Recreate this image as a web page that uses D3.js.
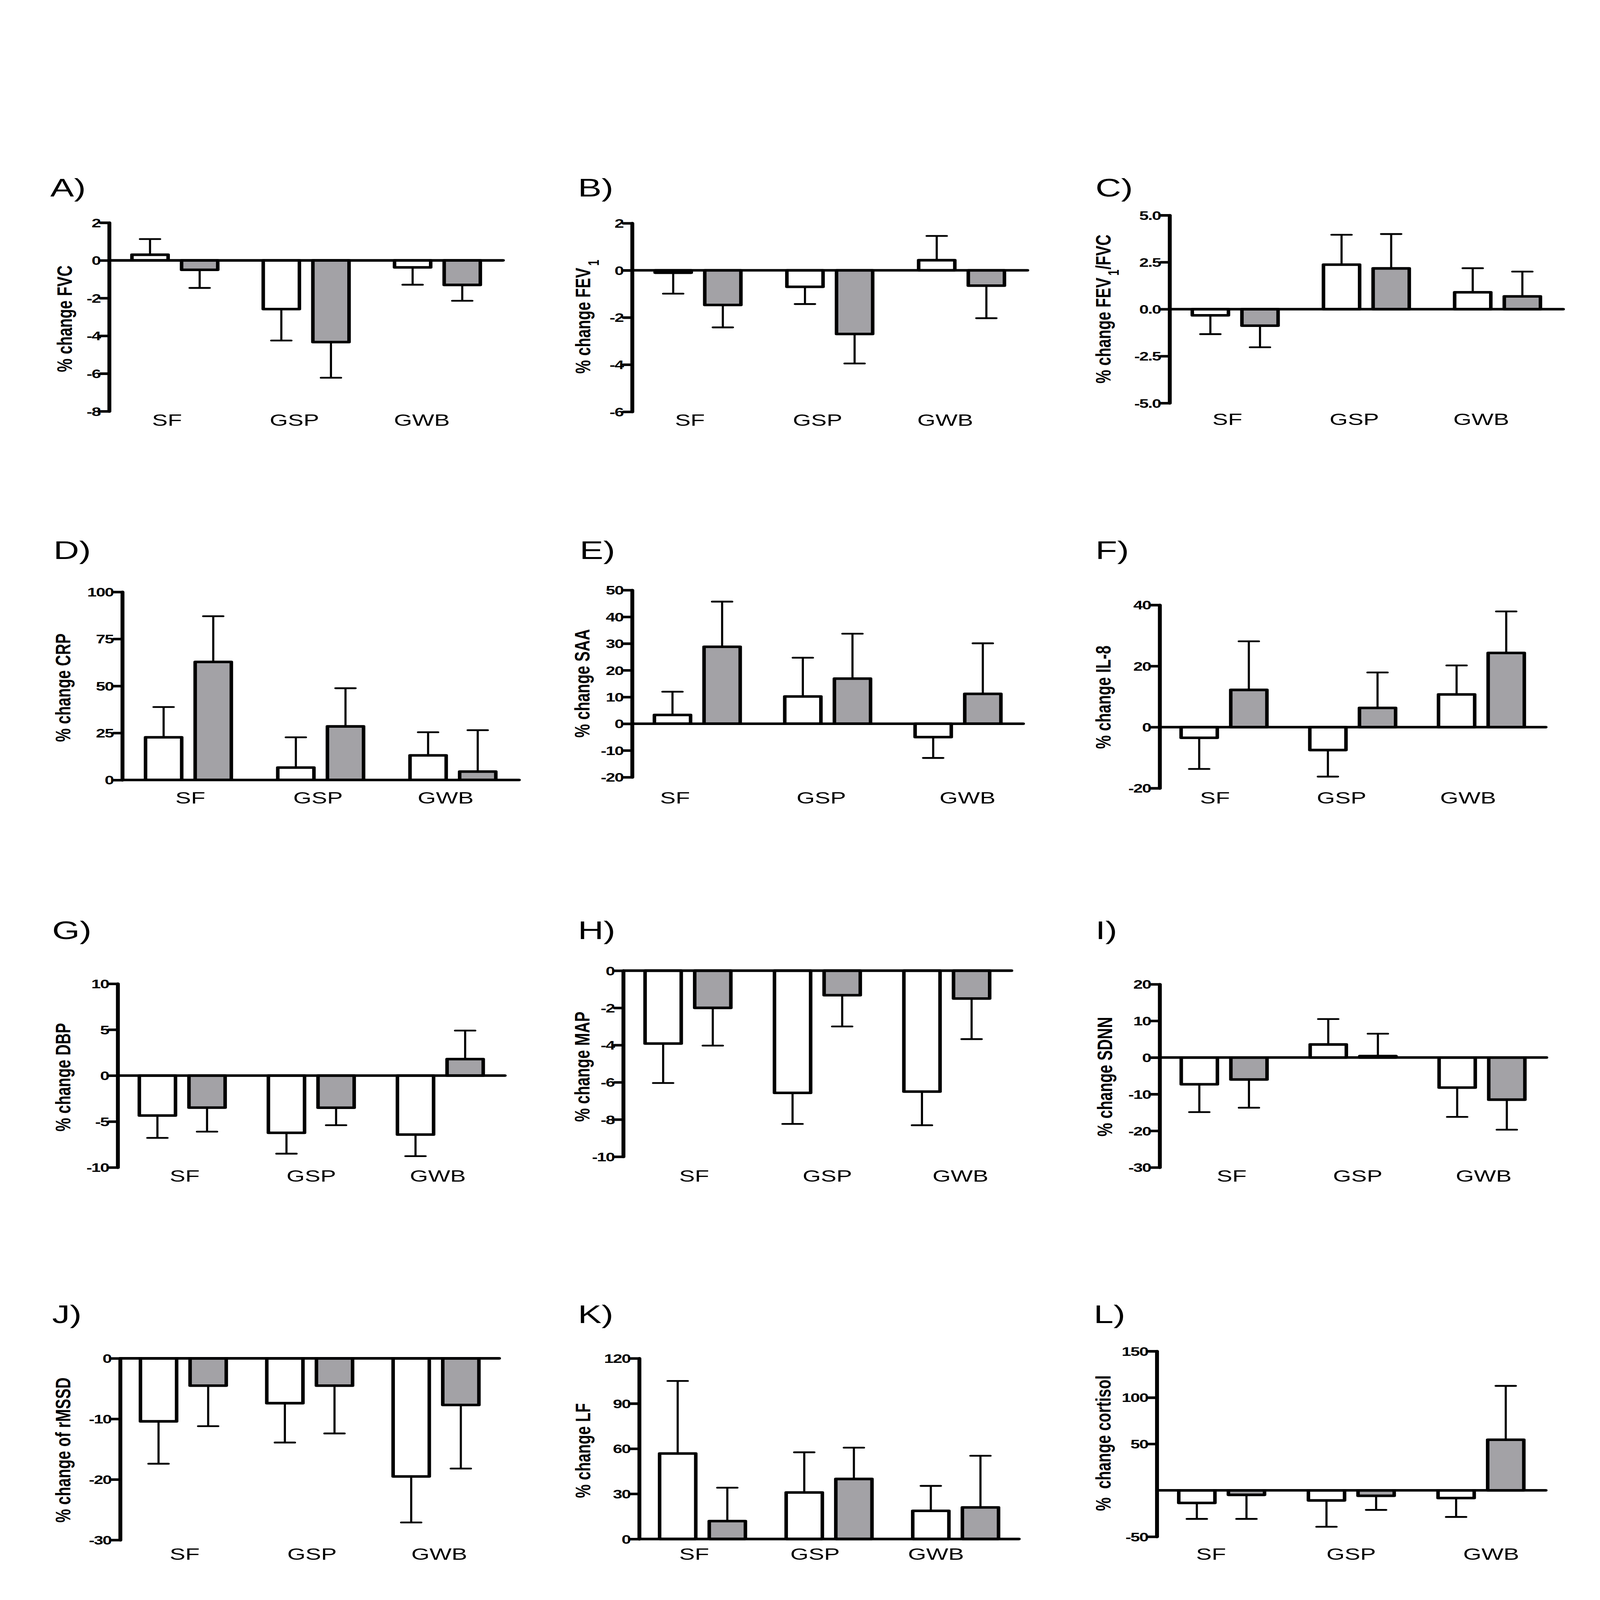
<!DOCTYPE html>
<html>
<head>
<meta charset="utf-8">
<script src="https://cdn.jsdelivr.net/npm/d3@7"></script>
<style>
  html, body { margin: 0; padding: 0; background: #fff; overflow: hidden; }
  #fig { display: block; width: 100vw; height: 100vh; }
  text { font-family: "Liberation Sans", Arial, Helvetica, sans-serif; fill: #000; }
</style>
</head>
<body>
<svg id="fig"></svg>
<script>
/* global d3 */

const groups = ["SF", "GSP", "GWB"];
const series = ["open", "filled"];

// order: SF open, SF filled, GSP open, GSP filled, GWB open, GWB filled
const fvcMean = [0.3, -0.5, -2.58, -4.33, -0.37, -1.3];
const fvcSem = [0.83, 0.96, 1.67, 1.89, 0.92, 0.84];
const fev1Mean = [-0.1, -1.47, -0.7, -2.7, 0.43, -0.65];
const fev1Sem = [0.89, 0.95, 0.73, 1.25, 1.03, 1.38];
const ratioMean = [-0.33, -0.88, 2.37, 2.17, 0.9, 0.68];
const ratioSem = [1.0, 1.15, 1.59, 1.83, 1.28, 1.32];
const crpMean = [22.7, 62.8, 6.6, 28.5, 13.1, 4.5];
const crpSem = [16.1, 24.3, 16.1, 20.3, 12.3, 22.0];
const saaMean = [3.3, 28.8, 10.2, 16.9, -5.0, 11.2];
const saaSem = [8.7, 16.9, 14.5, 16.8, 7.8, 18.9];
const il8Mean = [-3.5, 12.2, -7.5, 6.3, 10.7, 24.3];
const il8Sem = [10.2, 15.9, 8.7, 11.6, 9.5, 13.6];
const dbpMean = [-4.35, -3.49, -6.23, -3.5, -6.42, 1.8];
const dbpSem = [2.43, 2.61, 2.27, 1.9, 2.35, 3.1];
const mapMean = [-3.92, -2.0, -6.57, -1.32, -6.5, -1.5];
const mapSem = [2.12, 2.03, 1.67, 1.68, 1.81, 2.18];
const sdnnMean = [-7.3, -6.0, 3.56, 0.4, -8.2, -11.5];
const sdnnSem = [7.6, 7.7, 6.94, 6.1, 8.0, 8.2];
const rmssdMean = [-10.4, -4.5, -7.4, -4.5, -19.5, -7.7];
const rmssdSem = [7.0, 6.7, 6.5, 7.9, 7.6, 10.5];
const lfMean = [56.8, 11.9, 30.9, 39.9, 18.7, 21.0];
const lfSem = [48.2, 22.2, 26.7, 20.8, 16.6, 34.3];
const cortisolMean = [-13.6, -4.9, -10.9, -5.9, -8.3, 54.5];
const cortisolSem = [17.2, 25.9, 28.4, 15.2, 20.4, 58.1];

const panels = [
    { id: "A)", title: [["% change FVC"]], mean: fvcMean, sem: fvcSem, domain: [-8, 2], ticks: [2, 0, -2, -4, -6, -8], fmt: "d" },
    { id: "B)", title: [["% change FEV"], ["1", "sub"]], mean: fev1Mean, sem: fev1Sem, domain: [-6, 2], ticks: [2, 0, -2, -4, -6], fmt: "d" },
    { id: "C)", title: [["% change FEV"], ["1", "sub"], ["/FVC"]], mean: ratioMean, sem: ratioSem, domain: [-5, 5], ticks: [5, 2.5, 0, -2.5, -5], fmt: ".1f" },
    { id: "D)", title: [["% change CRP"]], mean: crpMean, sem: crpSem, domain: [0, 100], ticks: [0, 25, 50, 75, 100], fmt: "d" },
    { id: "E)", title: [["% change SAA"]], mean: saaMean, sem: saaSem, domain: [-20, 50], ticks: [50, 40, 30, 20, 10, 0, -10, -20], fmt: "d" },
    { id: "F)", title: [["% change IL-8"]], mean: il8Mean, sem: il8Sem, domain: [-20, 40], ticks: [40, 20, 0, -20], fmt: "d" },
    { id: "G)", title: [["% change DBP"]], mean: dbpMean, sem: dbpSem, domain: [-10, 10], ticks: [10, 5, 0, -5, -10], fmt: "d" },
    { id: "H)", title: [["% change MAP"]], mean: mapMean, sem: mapSem, domain: [-10, 0], ticks: [0, -2, -4, -6, -8, -10], fmt: "d" },
    { id: "I)", title: [["% change SDNN"]], mean: sdnnMean, sem: sdnnSem, domain: [-30, 20], ticks: [20, 10, 0, -10, -20, -30], fmt: "d" },
    { id: "J)", title: [["% change of rMSSD"]], mean: rmssdMean, sem: rmssdSem, domain: [-30, 0], ticks: [0, -10, -20, -30], fmt: "d" },
    { id: "K)", title: [["% change LF"]], mean: lfMean, sem: lfSem, domain: [0, 120], ticks: [0, 30, 60, 90, 120], fmt: "d" },
    { id: "L)", title: [["%  change cortisol"]], mean: cortisolMean, sem: cortisolSem, domain: [-50, 150], ticks: [150, 100, 50, -50], fmt: "d" }
];

// where each panel sits on the page (axis box, letter, category labels, axis title)
const layout = [
    { x0: 308, x1: 1419, y0: 869, y1: 1605, lx: 142, ly: 767, c0: 471, c2: 1190, cy: 1662, tx: 203, ty: 1244 },
    { x0: 1783, x1: 2898, y0: 871, y1: 1607, lx: 1630, ly: 767, c0: 1946, c2: 2666, cy: 1662, tx: 1665, ty: 1236 },
    { x0: 3299, x1: 4409, y0: 840, y1: 1573, lx: 3090, ly: 767, c0: 3462, c2: 4178, cy: 1658, tx: 3132, ty: 1206 },
    { x0: 345, x1: 1464, y0: 2310, y1: 3044, lx: 151, ly: 2181, c0: 537, c2: 1257, cy: 3135, tx: 198, ty: 2684 },
    { x0: 1783, x1: 2886, y0: 2303, y1: 3033, lx: 1635, ly: 2181, c0: 1904, c2: 2729, cy: 3135, tx: 1663, ty: 2667 },
    { x0: 3271, x1: 4360, y0: 2361, y1: 3076, lx: 3090, ly: 2181, c0: 3427, c2: 4141, cy: 3135, tx: 3132, ty: 2721 },
    { x0: 332, x1: 1424, y0: 3839, y1: 4556, lx: 147, ly: 3665, c0: 521, c2: 1235, cy: 4612, tx: 198, ty: 4204 },
    { x0: 1758, x1: 2853, y0: 3788, y1: 4514, lx: 1630, ly: 3665, c0: 1958, c2: 2709, cy: 4612, tx: 1663, ty: 4163 },
    { x0: 3271, x1: 4362, y0: 3841, y1: 4556, lx: 3090, ly: 3665, c0: 3474, c2: 4185, cy: 4612, tx: 3137, ty: 4202 },
    { x0: 339, x1: 1408, y0: 5301, y1: 6010, lx: 147, ly: 5163, c0: 521, c2: 1239, cy: 6087, tx: 198, ty: 5659 },
    { x0: 1803, x1: 2874, y0: 5301, y1: 6006, lx: 1630, ly: 5163, c0: 1958, c2: 2640, cy: 6087, tx: 1665, ty: 5661 },
    { x0: 3263, x1: 4360, y0: 5273, y1: 5997, lx: 3085, ly: 5163, c0: 3416, c2: 4206, cy: 6087, tx: 3132, ty: 5632 }
];

const W = 4513, H = 6244;
const fillColor = { open: "#ffffff", filled: "#a3a2a6" };
const pairWidth = 252;

const svg = d3.select("#fig")
    .attr("viewBox", `0 0 ${W} ${H}`)
    .attr("preserveAspectRatio", "none");

svg.append("rect")
    .attr("width", W)
    .attr("height", H)
    .attr("fill", "#fff");

panels.forEach((p, i) => {
    const L = layout[i];
    const g = svg.append("g").attr("class", "panel");

    const y = d3.scaleLinear().domain(p.domain).range([L.y1, L.y0]);
    const x = d3.scaleBand().domain(groups).range([L.x0, L.x1]);
    const inner = d3.scaleBand().domain(series).range([0, pairWidth]).paddingInner(0.2);
    const off = (x.bandwidth() - pairWidth) / 2;
    const bw = inner.bandwidth();

    const rows = p.mean.map((m, k) => ({
        group: groups[Math.floor(k / 2)],
        s: series[k % 2],
        m: m,
        e: p.sem[k]
    }));

    // error bars (one sided, away from zero)
    rows.forEach(d => {
        const cx = x(d.group) + off + inner(d.s) + bw / 2;
        const dir = d.m < 0 ? -1 : 1;
        const tip = y(d.m + dir * d.e);
        g.append("line")
            .attr("x1", cx).attr("x2", cx)
            .attr("y1", y(d.m)).attr("y2", tip)
            .attr("stroke", "#000").attr("stroke-width", 6);
        g.append("line")
            .attr("x1", cx - 28).attr("x2", cx + 28)
            .attr("y1", tip).attr("y2", tip)
            .attr("stroke", "#000").attr("stroke-width", 7)
            .attr("stroke-linecap", "round");
    });

    // bars
    g.selectAll("rect.bar")
        .data(rows)
        .enter()
        .append("rect")
        .attr("class", "bar")
        .attr("x", d => x(d.group) + off + inner(d.s) + 5)
        .attr("width", bw - 10)
        .attr("y", d => Math.min(y(0), y(d.m)))
        .attr("height", d => Math.abs(y(d.m) - y(0)))
        .attr("fill", d => fillColor[d.s])
        .attr("stroke", "#000")
        .attr("stroke-width", 10)
        .attr("stroke-linejoin", "round");

    // zero line
    g.append("line")
        .attr("x1", L.x0).attr("x2", L.x1)
        .attr("y1", y(0)).attr("y2", y(0))
        .attr("stroke", "#000").attr("stroke-width", 10)
        .attr("stroke-linecap", "round");

    // y axis
    const ax = g.append("g")
        .attr("transform", `translate(${L.x0},0)`)
        .call(d3.axisLeft(y)
            .tickValues(p.ticks)
            .tickSize(24)
            .tickSizeOuter(0)
            .tickFormat(v => d3.format(p.fmt)(v).replace("\u2212", "-")));

    ax.select(".domain")
        .attr("stroke-width", 11)
        .attr("stroke-linecap", "round");
    ax.selectAll(".tick line")
        .attr("stroke-width", 10)
        .attr("stroke-linecap", "round");
    ax.selectAll(".tick text")
        .attr("font-size", 48)
        .attr("font-weight", "bold")
        .attr("letter-spacing", -2)
        .attr("x", -25)
        .attr("dy", "0.36em");

    // category labels
    const cx = d3.scalePoint().domain(groups).range([L.c0, L.c2]);
    g.selectAll("text.cat")
        .data(groups)
        .enter()
        .append("text")
        .attr("class", "cat")
        .attr("x", d => cx(d))
        .attr("y", L.cy)
        .attr("text-anchor", "middle")
        .attr("font-size", 66)
        .text(d => d);

    // panel letter
    g.append("text")
        .attr("x", L.lx)
        .attr("y", L.ly)
        .attr("font-size", 100)
        .text(p.id);

    // axis title
    const t = g.append("text")
        .attr("transform", `translate(${L.tx},${L.ty}) rotate(-90)`)
        .attr("text-anchor", "middle")
        .attr("font-size", 60)
        .attr("font-weight", "bold")
        .style("white-space", "pre");
    p.title.forEach(part => {
        const ts = t.append("tspan").text(part[0]);
        if (part[1] === "sub") {
            ts.attr("font-size", 42).attr("baseline-shift", "sub").attr("dx", 8);
        }
    });
});
</script>
</body>
</html>
